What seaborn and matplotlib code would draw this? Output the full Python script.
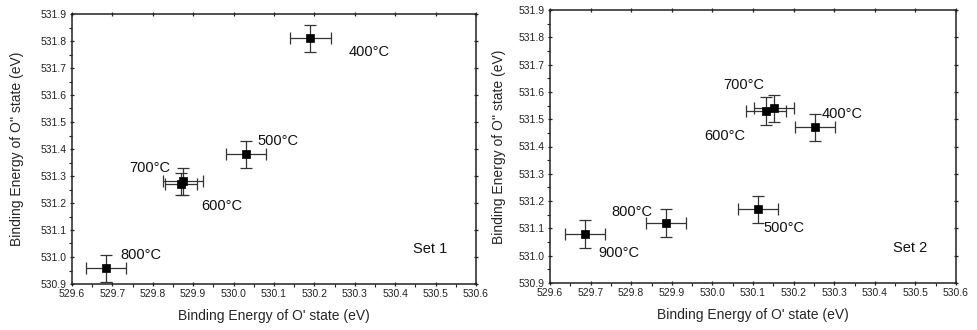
import matplotlib
matplotlib.use("Agg")
import matplotlib.pyplot as plt
import seaborn as sns
import pandas as pd
from matplotlib.ticker import MultipleLocator

sns.set_style("ticks")
plt.rcParams["font.family"] = ["Liberation Sans", "DejaVu Sans"]

# Set 1: annealing temperature, O' and O'' binding energies with uncertainties
set1_labels = ["400°C", "500°C", "700°C", "600°C", "800°C"]
set1_x = [530.19, 530.03, 529.875, 529.87, 529.684]
set1_y = [531.81, 531.38, 531.28, 531.27, 530.958]
set1_xerr = [0.05, 0.05, 0.05, 0.04, 0.05]
set1_yerr = [0.05, 0.05, 0.05, 0.04, 0.05]
set1_text_x = [530.285, 530.06, 529.843, 529.92, 529.72]
set1_text_y = [531.76, 531.43, 531.33, 531.19, 531.007]
set1_text_ha = ["left", "left", "right", "left", "left"]

# Set 2
set2_labels = ["700°C", "600°C", "400°C", "500°C", "800°C", "900°C"]
set2_x = [530.152, 530.132, 530.253, 530.112, 529.886, 529.686]
set2_y = [531.54, 531.53, 531.47, 531.17, 531.12, 531.08]
set2_xerr = [0.05, 0.05, 0.05, 0.05, 0.05, 0.05]
set2_yerr = [0.05, 0.05, 0.05, 0.05, 0.05, 0.05]
set2_text_x = [530.026, 529.98, 530.27, 530.125, 529.75, 529.72]
set2_text_y = [531.625, 531.44, 531.52, 531.10, 531.16, 531.01]

x_ticks = [529.6, 529.7, 529.8, 529.9, 530.0, 530.1, 530.2, 530.3, 530.4, 530.5, 530.6]
y_ticks = [530.9, 531.0, 531.1, 531.2, 531.3, 531.4, 531.5, 531.6, 531.7, 531.8, 531.9]

fig = plt.figure(figsize=(9.78, 3.3), dpi=100)
ax1 = fig.add_axes([72 / 978, 1 - 284 / 330, 404 / 978, 270 / 330])
ax2 = fig.add_axes([550 / 978, 1 - 283 / 330, 406 / 978, 273 / 330])


def draw_panel(ax, labels, xs, ys, xerr, yerr, tx, ty, ha, set_name, ylabelpad):
    df = pd.DataFrame({"x": xs, "y": ys, "label": labels})
    ax.errorbar(xs, ys, xerr=xerr, yerr=yerr, fmt="none", ecolor="#333333",
                elinewidth=0.9, capsize=4, capthick=0.9, zorder=2)
    sns.scatterplot(data=df, x="x", y="y", marker="s", s=28, color="black",
                    edgecolor="black", linewidth=0.5, ax=ax, zorder=3, legend=False)
    for lab, x, y, h in zip(labels, tx, ty, ha):
        ax.text(x, y, lab, ha=h, va="center", fontsize=10.5, color="#111111")
    ax.text(530.445, 531.03, set_name, ha="left", va="center", fontsize=10.5, color="#111111")

    ax.set_xlim(529.6, 530.6)
    ax.set_ylim(530.9, 531.9)
    ax.set_xticks(x_ticks)
    ax.set_yticks(y_ticks)
    ax.set_xticklabels([f"{v:.1f}" for v in x_ticks], fontsize=7.5)
    ax.set_yticklabels([f"{v:.1f}" for v in y_ticks], fontsize=7.5)
    ax.xaxis.set_minor_locator(MultipleLocator(0.05))
    ax.yaxis.set_minor_locator(MultipleLocator(0.05))
    ax.tick_params(axis="both", which="major", direction="out", length=3.5, width=0.9,
                   colors="#222222", pad=2)
    ax.tick_params(axis="both", which="minor", direction="out", length=2, width=0.8,
                   colors="#222222")
    ax.tick_params(axis="x", which="major", top=True, direction="inout")
    ax.tick_params(axis="y", which="major", right=True, direction="inout")
    ax.tick_params(axis="x", which="minor", top=False)
    ax.tick_params(axis="y", which="minor", right=False)
    for sp in ax.spines.values():
        sp.set_visible(True)
        sp.set_linewidth(1.1)
        sp.set_color("#222222")
    ax.set_xlabel("Binding Energy of O' state (eV)", fontsize=10, labelpad=7)
    ax.set_ylabel("Binding Energy of O'' state (eV)", fontsize=10, labelpad=ylabelpad)


draw_panel(ax1, set1_labels, set1_x, set1_y, set1_xerr, set1_yerr,
           set1_text_x, set1_text_y, set1_text_ha, "Set 1", 12)
draw_panel(ax2, set2_labels, set2_x, set2_y, set2_xerr, set2_yerr,
           set2_text_x, set2_text_y, ["left"] * len(set2_labels), "Set 2", 9)

fig.savefig("out.png", dpi=100)
